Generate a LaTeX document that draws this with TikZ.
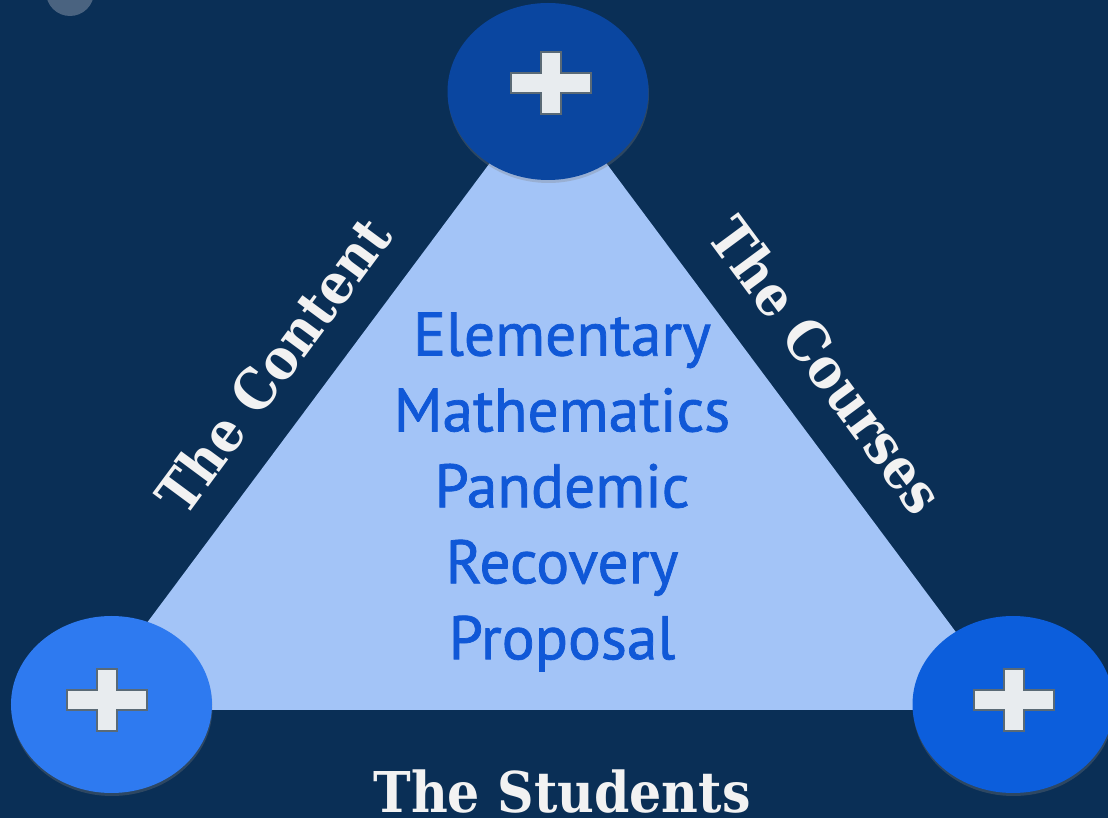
\documentclass[tikz,border=0pt]{standalone}
\usepackage{fontspec}
\usepackage{xcolor}
\usetikzlibrary{shapes.geometric,shadows}
\newfontfamily\slabfont[FakeStretch=0.9]{DejaVu Serif}
\newfontfamily\titlefont[FakeBold=1.2]{PT Sans}
\newcommand{\PlusSign}[1]{\draw[line width=1pt,draw=cpb,fill=cpf,line join=miter,shift={#1}] (-0.8,0.2) -- (-0.2,0.2) -- (-0.2,0.62) -- (0.2,0.62) -- (0.2,0.2) -- (0.8,0.2) -- (0.8,-0.2) -- (0.2,-0.2) -- (0.2,-0.62) -- (-0.2,-0.62) -- (-0.2,-0.2) -- (-0.8,-0.2) -- cycle;}

\begin{document}
\begin{tikzpicture}
\definecolor{cbg}{rgb}{0.039,0.184,0.337}
\definecolor{csm}{rgb}{0.29,0.39,0.5}
\definecolor{ctri}{rgb}{0.64,0.77,0.97}
\definecolor{cfv0}{rgb}{0.039,0.275,0.627}
\definecolor{cfv1}{rgb}{0.18,0.478,0.941}
\definecolor{cfv2}{rgb}{0.047,0.369,0.863}
\definecolor{cpf}{rgb}{0.91,0.925,0.937}
\definecolor{cpb}{rgb}{0.353,0.416,0.463}
\definecolor{clt}{rgb}{0.95,0.95,0.95}
\definecolor{cmt}{rgb}{0.063,0.345,0.843}
%
\clip (0,0) rectangle (22.16,16.36);
\fill[cbg] (0,0) rectangle (22.16,16.36);
\fill[csm] (1.4,16.52) circle (0.48cm);
%
\coordinate (t0) at (10.96cm,14.66cm);
\coordinate (t1) at (1.64cm,2.16cm);
\coordinate (t2) at (20.28cm,2.16cm);
\fill[ctri] (t0) -- (t1) -- (t2) -- cycle;
%
\node[ellipse,minimum width=4.02cm,minimum height=3.54cm,inner sep=0pt,fill=cfv0,drop shadow={opacity=0.3,shadow xshift=0.01cm,shadow yshift=-0.06cm}] (v0) at (10.96cm,14.53cm) {};
\node[ellipse,minimum width=4.02cm,minimum height=3.54cm,inner sep=0pt,fill=cfv1,drop shadow={opacity=0.3,shadow xshift=0.01cm,shadow yshift=-0.06cm}] (v1) at (2.23cm,2.27cm) {};
\node[ellipse,minimum width=4.02cm,minimum height=3.54cm,inner sep=0pt,fill=cfv2,drop shadow={opacity=0.3,shadow xshift=0.01cm,shadow yshift=-0.06cm}] (v2) at (20.26cm,2.27cm) {};
%
\PlusSign{(11.02cm,14.7cm)}
\PlusSign{(2.14cm,2.36cm)}
\PlusSign{(20.28cm,2.36cm)}
%
\node[text=clt,rotate=53.5,font=\slabfont\bfseries\fontsize{32}{38}\selectfont] (lContent) at (5.46cm,9.06cm) {The Content};
\node[text=clt,rotate=-53.5,font=\slabfont\bfseries\fontsize{32}{38}\selectfont] (lCourses) at (16.54cm,9.06cm) {The Courses};
\node[text=clt,anchor=base,font=\slabfont\bfseries\fontsize{32}{38}\selectfont] (lStudents) at (11.24cm,0.12cm) {The Students};
%
\node[text=cmt,align=center,font=\titlefont\fontsize{35}{43.2}\selectfont] (title) at (11.24cm,6.52cm) {Elementary\\Mathematics\\Pandemic\\Recovery\\Proposal};
%
\end{tikzpicture}
\end{document}
